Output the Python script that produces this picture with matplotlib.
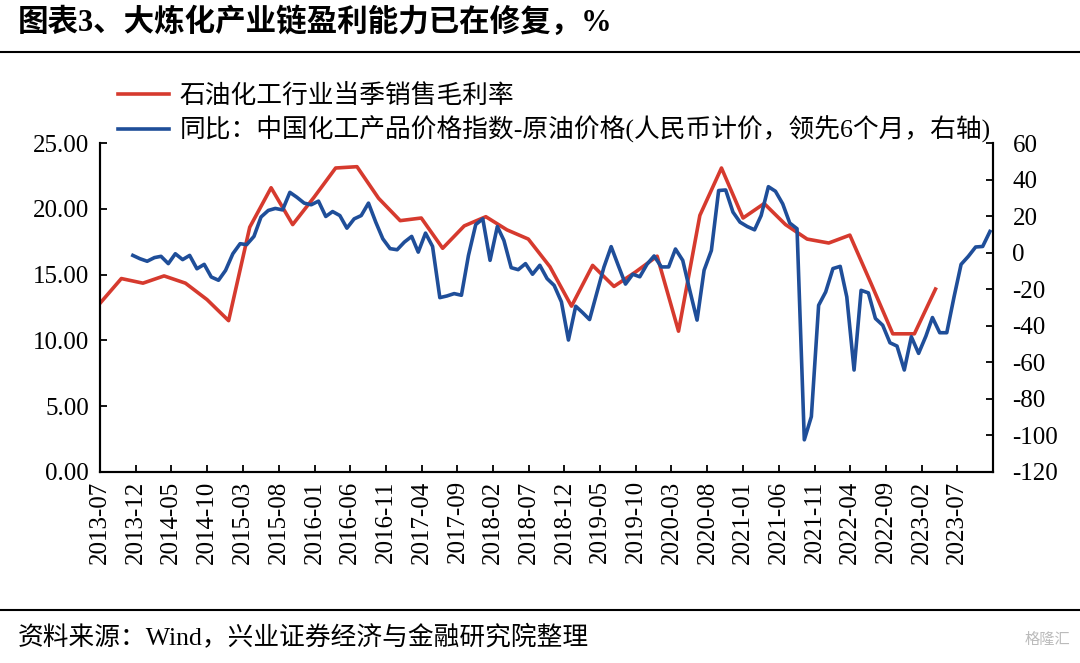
import matplotlib
matplotlib.use("Agg")
import matplotlib.pyplot as plt
import matplotlib.dates as mdates
from matplotlib.lines import Line2D
import pandas as pd

plt.rcParams["font.family"] = ["Liberation Serif", "Noto Sans CJK SC"]
plt.rcParams["axes.unicode_minus"] = False

# gross margin, quarterly (left axis, %)
margin_dates = pd.date_range("2013-06-30", periods=40, freq="QE")
margin = [12.8, 14.7, 14.35, 14.9, 14.35, 13.1, 11.5, 18.6, 21.6, 18.8,
          20.9, 23.1, 23.2, 20.8, 19.1, 19.3, 17.0, 18.7, 19.4, 18.4,
          17.7, 15.6, 12.6, 15.7, 14.1, 15.2, 16.4, 10.7, 19.5, 23.1,
          19.3, 20.4, 18.8, 17.7, 17.4, 18.0, 14.3, 10.5, 10.5, 13.9]

# chemical price index vs crude, yoy, 6m lead (right axis)
spread_dates = pd.date_range("2013-11-01", periods=121, freq="MS") + pd.Timedelta(days=17)
spread = [-1.5, -3.3, -4.7, -2.7, -2.0, -6.0, -0.6, -3.8, -1.5, -8.8,
          -6.4, -13.3, -15.1, -9.7, -0.6, 4.9, 4.4, 8.9, 19.5, 23.1,
          24.2, 23.4, 33.0, 30.3, 27.1, 26.2, 28.2, 19.8, 22.5, 20.3,
          13.4, 18.5, 20.3, 27.1, 16.7, 7.6, 2.2, 1.6, 5.8, 8.9,
          0.3, 10.7, 3.4, -24.6, -23.7, -22.4, -23.3, -1.5, 15.4, 18.5,
          -4.2, 14.3, 6.7, -8.2, -9.3, -6.0, -11.8, -6.9, -14.2, -17.9,
          -26.9, -47.8, -29.3, -33.0, -36.6, -22.0, -8.0, 3.3, -6.9, -17.2,
          -11.8, -13.2, -6.3, -1.8, -7.8, -7.8, 2.0, -4.2, -20.6, -36.9,
          -9.6, 1.2, 34.0, 34.3, 22.2, 16.7, 14.3, 12.5, 20.3, 36.1,
          33.6, 26.7, 16.2, 13.1, -102.4, -89.7, -28.8, -21.5, -8.7, -7.5,
          -24.2, -64.2, -20.6, -22.0, -36.0, -39.7, -49.3, -51.1, -64.2, -46.0,
          -55.1, -45.7, -35.5, -43.8, -43.8, -24.2, -6.4, -2.0, 3.1, 3.4,
          11.6]

xticks = pd.date_range("2013-07-01", "2023-07-01", freq="5MS")
red = "#D63A2E"
blue = "#1F4E99"

fig = plt.figure(figsize=(10.8, 6.63), dpi=100)
ax = fig.add_axes([100/1080, 1-472/663, 893/1080, 329/663])
ax2 = ax.twinx()

l1, = ax.plot(margin_dates, margin, color=red, lw=2.6)
l2, = ax2.plot(spread_dates, spread, color=blue, lw=2.6)

ax.set_xlim(pd.Timestamp("2013-07-01"), pd.Timestamp("2023-12-01"))
ax.set_ylim(0, 25)
ax.set_yticks([0, 5, 10, 15, 20, 25])
ax.yaxis.set_major_formatter(matplotlib.ticker.FormatStrFormatter("%.2f"))
ax2.set_ylim(-120, 60)
ax2.set_yticks(range(-120, 61, 20))

ax.set_xticks(xticks)
ax.xaxis.set_major_formatter(mdates.DateFormatter("%Y-%m"))
for lab in ax.get_xticklabels():
    lab.set_rotation(90)

for a in (ax, ax2):
    a.spines["top"].set_visible(False)
    for s in a.spines.values():
        s.set_linewidth(1.5)
ax.tick_params(axis="x", direction="in", length=5, width=1.3, labelsize=18, pad=6)
ax.tick_params(axis="y", direction="in", length=5, width=1.3, labelsize=18, pad=8)
ax2.tick_params(axis="y", direction="in", length=5, width=1.3, labelsize=18, pad=14)

ax2.legend([l1, l2], ["石油化工行业当季销售毛利率",
                      "同比：中国化工产品价格指数-原油价格(人民币计价，领先6个月，右轴)"],
           loc="upper left", bbox_to_anchor=(118/1080, 1-84/663),
           bbox_transform=fig.transFigure, frameon=False, borderaxespad=0,
           borderpad=0, handlelength=2.0, handletextpad=0.4, labelspacing=0.3,
           fontsize=18.5)

fig.text(18/1080, 1-23/663, "图表3、大炼化产业链盈利能力已在修复，%",
         fontsize=22, fontweight="bold", va="center")
fig.add_artist(Line2D([0, 1], [1-52/663]*2, color="black", lw=1.5))
fig.add_artist(Line2D([0, 1], [1-610/663]*2, color="black", lw=1.5))
fig.text(18/1080, 1-638/663, "资料来源：Wind，兴业证券经济与金融研究院整理",
         fontsize=18.5, va="center")
fig.text(1070/1080, 1-640/663, "格隆汇", fontsize=11, color="#BBBBBB",
         ha="right", va="center")

fig.savefig("out.png", dpi=100)
